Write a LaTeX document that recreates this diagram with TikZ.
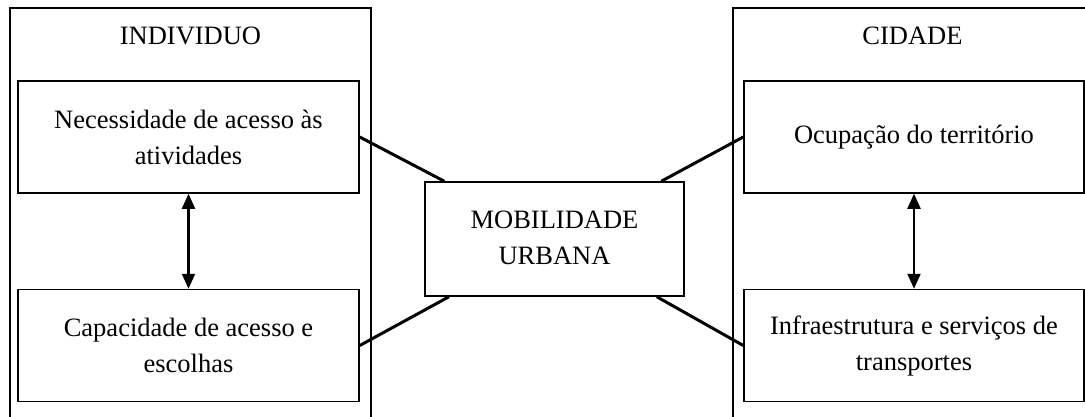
\documentclass[tikz,border=0pt]{standalone}
\usepackage{fontspec}
\setmainfont{Liberation Serif}
\usetikzlibrary{arrows.meta}
\tikzset{
  outerbox/.style={draw, line width=1.5pt, minimum width=361pt, minimum height=422pt, inner sep=0pt},
  innerbox/.style={draw, line width=1.5pt, minimum width=341pt, minimum height=112pt, inner sep=0pt, align=center, font=\fontsize{26.5}{36}\selectfont},
  mobbox/.style={draw, line width=1.5pt, minimum width=259pt, minimum height=114pt, inner sep=0pt, align=center, font=\fontsize{26.5}{36}\selectfont},
  titletext/.style={anchor=base, inner sep=0pt, font=\fontsize{26.5}{36}\selectfont},
  link/.style={line width=3pt},
  twoway/.style={line width=2.2pt, {Triangle[length=15pt,width=13pt]}-{Triangle[length=15pt,width=13pt]}}
}
\begin{document}
\begin{tikzpicture}[x=1pt,y=-1pt]
\useasboundingbox (0,0) rectangle (1085,416);
\clip (0,0) rectangle (1085,416);
\fill[white] (0,0) rectangle (1085,416);
% outer frames (bottom and right edges fall outside the picture)
\node[outerbox] (indiv) at (190.5,219) {};
\node[outerbox, minimum width=362pt] (cid) at (914,219) {};
\node[titletext] (indivt) at (190.5,44) {INDIVIDUO};
\node[titletext] (cidt) at (912.5,44) {CIDADE};
% inner boxes
\node[innerbox] (nec) at (188.5,137) {Necessidade de acesso às\\atividades};
\node[innerbox] (cap) at (188.5,345.5) {Capacidade de acesso e\\escolhas};
\node[innerbox, minimum width=340pt] (ocu) at (914,137) {Ocupação do território};
\node[innerbox, minimum width=340pt] (inf) at (914,345.5) {Infraestrutura e serviços de\\transportes};
% centre
\node[mobbox] (mob) at (554.5,239) {\raisebox{-3pt}{\begin{tabular}{@{}c@{}}MOBILIDADE\\[-0.0pt]URBANA\end{tabular}}};
% connectors
\draw[link] (nec.east) -- (mob);
\draw[link] (cap.east) -- (mob);
\draw[link] (ocu.west) -- (mob);
\draw[link] (inf.west) -- (mob);
\draw[twoway] (nec) -- (cap);
\draw[twoway] (ocu) -- (inf);
\end{tikzpicture}
\end{document}
